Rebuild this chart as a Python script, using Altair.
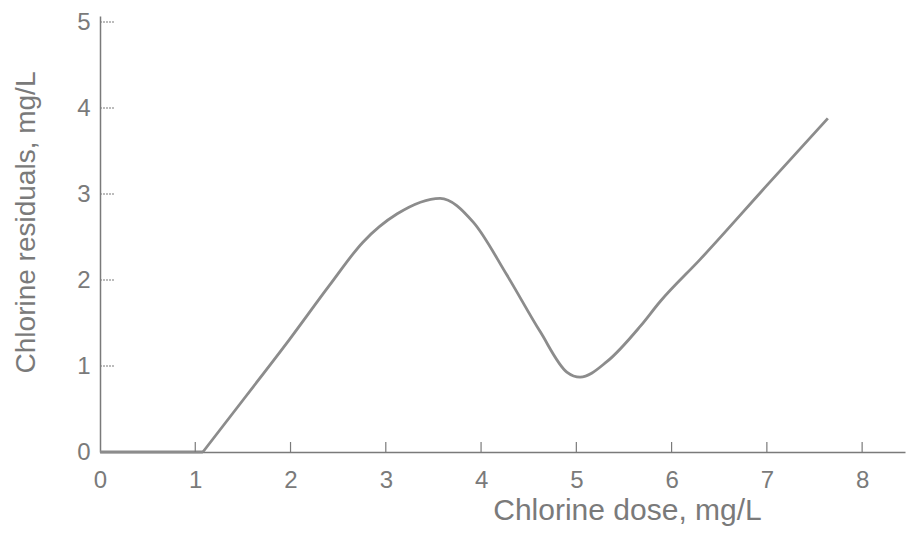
import altair as alt
import pandas as pd

# Data (breakpoint chlorination curve)
dose = [0, 1.08, 1.54, 1.99, 2.41, 2.76, 3.12, 3.57, 3.92, 4.27, 4.62, 4.90, 5.04,
        5.32, 5.67, 5.88, 6.30, 7.00, 7.64]
residual = [0, 0, 0.66, 1.31, 1.94, 2.44, 2.77, 2.95, 2.67, 2.06, 1.40, 0.93, 0.87,
            1.05, 1.46, 1.75, 2.24, 3.10, 3.88]

x_ticks = [0, 1, 2, 3, 4, 5, 6, 7, 8]
y_ticks = [0, 1, 2, 3, 4, 5]

df = pd.DataFrame({"dose": dose, "residual": residual})
df_flat = df.iloc[:2]      # zero-residual stretch up to the demand point
df_curve = df.iloc[1:]     # residual curve from the demand point onward
xt = pd.DataFrame({"dose": x_ticks[1:]})
yt = pd.DataFrame({"residual": y_ticks[1:]})

GREY = "#7a7a7a"
FONT = "Liberation Sans"

xscale = alt.Scale(domain=[0, 8.45], nice=False, zero=False)
yscale = alt.Scale(domain=[0, 5.07], nice=False, zero=False)

xaxis = alt.Axis(
    values=x_ticks, tickSize=0, grid=False, labelFlush=False,
    domainColor=GREY, domainWidth=1.5,
    labelFont=FONT, labelFontSize=24, labelColor=GREY, labelPadding=16,
    title="Chlorine dose, mg/L", titleFont=FONT, titleFontSize=30,
    titleFontWeight="normal", titleColor=GREY,
    titleX=527, titleY=58, titleAlign="center", titleBaseline="middle",
)
yaxis = alt.Axis(
    values=y_ticks, tickSize=0, grid=False, labelFlush=False,
    domainColor=GREY, domainWidth=1.5,
    labelFont=FONT, labelFontSize=24, labelColor=GREY, labelPadding=10,
    title="Chlorine residuals, mg/L", titleFont=FONT, titleFontSize=28,
    titleFontWeight="normal", titleColor=GREY,
    titleX=-74, titleY=206, titleAlign="center", titleBaseline="middle",
)

X = alt.X("dose:Q", scale=xscale, axis=xaxis)
Y = alt.Y("residual:Q", scale=yscale, axis=yaxis)

flat = alt.Chart(df_flat).mark_line(color="#8c8c8c", strokeWidth=2.8).encode(x=X, y=Y)
curve = alt.Chart(df_curve).mark_line(
    color="#8c8c8c", strokeWidth=2.8, interpolate="monotone"
).encode(x=X, y=Y)

xtick_rules = alt.Chart(xt).mark_rule(color=GREY, strokeWidth=1.2).encode(
    x=X, y=alt.value(436), y2=alt.value(426),
)

ytick_rules = alt.Chart(yt).mark_rule(color=GREY, strokeWidth=1.2, strokeDash=[2, 1]).encode(
    y=Y, x=alt.value(0), x2=alt.value(15),
)

chart = alt.layer(flat, curve, xtick_rules, ytick_rules).properties(
    width=805, height=436,
    autosize=alt.AutoSizeParams(type="none"),
    padding={"left": 92, "top": 8, "right": 2, "bottom": 78},
).configure_view(stroke=None)

chart.save("out.html", embed_options={"renderer": "svg", "actions": False})
